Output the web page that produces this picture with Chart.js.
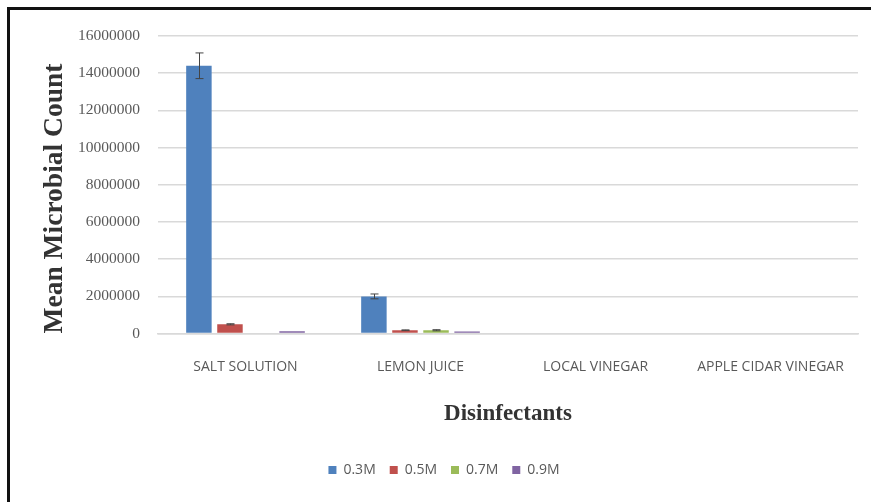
<!DOCTYPE html>
<html>
<head>
<meta charset="utf-8">
<script src="https://cdn.jsdelivr.net/npm/chart.js@4.4.1/dist/chart.umd.min.js"></script>
<style>
	html, body { margin: 0; padding: 0; background: #fff; overflow: hidden; }
	#wrap { position: relative; width: 871px; height: 502px; }
	#frame {
		position: absolute; left: 7px; top: 7px; width: 900px; height: 600px;
		border-left: 3px solid #111; border-top: 3px solid #111;
	}
	canvas { position: absolute; left: 0; top: 0; }
</style>
</head>
<body>
<div id="wrap">
	<canvas id="chartBar" width="871" height="502"></canvas>
	<div id="frame"></div>
</div>
<script>
'use strict';

var categories = ['SALT SOLUTION', 'LEMON JUICE', 'LOCAL VINEGAR', 'APPLE CIDAR VINEGAR'];
var seriesNames = ['0.3M', '0.5M', '0.7M', '0.9M'];
var seriesColors = ['#4f81bd', '#c0504d', '#9bbb59', '#8064a2'];

var mean03 = [14400000, 2000000, 0, 0];
var mean05 = [500000, 180000, 0, 0];
var mean07 = [0, 180000, 0, 0];
var mean09 = [120000, 110000, 0, 0];

var err03 = [690000, 130000, 0, 0];
var err05 = [30000, 20000, 0, 0];
var err07 = [0, 30000, 0, 0];
var err09 = [0, 0, 0, 0];

var yTicks = [0, 2000000, 4000000, 6000000, 8000000, 10000000, 12000000, 14000000, 16000000];

var means = [mean03, mean05, mean07, mean09];
var errs = [err03, err05, err07, err09];

// draws +/- error whiskers on top of each bar
var errorBars = {
	id: 'errorBars',
	afterDatasetsDraw: function(chart) {
		var ctx = chart.ctx;
		var y = chart.scales.y;
		ctx.save();
		ctx.strokeStyle = '#444';
		ctx.lineWidth = 1;
		chart.data.datasets.forEach(function(ds, i) {
			var meta = chart.getDatasetMeta(i);
			meta.data.forEach(function(bar, j) {
				var e = ds.errors[j];
				if (!e) return;
				var v = ds.data[j];
				var top = y.getPixelForValue(v + e);
				var bot = y.getPixelForValue(v - e);
				var x = Math.round(bar.x) + 0.5;
				ctx.beginPath();
				ctx.moveTo(x, top);
				ctx.lineTo(x, bot);
				ctx.moveTo(x - 4, top);
				ctx.lineTo(x + 4, top);
				ctx.moveTo(x - 4, bot);
				ctx.lineTo(x + 4, bot);
				ctx.stroke();
			});
		});
		ctx.restore();
	}
};

var ctx = document.getElementById('chartBar').getContext('2d');
new Chart(ctx, {
	type: 'bar',
	data: {
		labels: categories,
		datasets: seriesNames.map(function(name, i) {
			return {
				label: name,
				data: means[i],
				errors: errs[i],
				backgroundColor: seriesColors[i],
				categoryPercentage: 0.71,
				barPercentage: 0.82
			};
		})
	},
	options: {
		responsive: false,
		animation: false,
		layout: {
			padding: { left: 30, right: 13, top: 36, bottom: 15 }
		},
		plugins: {
			legend: {
				position: 'bottom',
				labels: {
					boxWidth: 8,
					boxHeight: 8,
					padding: 14,
					color: '#595959',
					font: { family: 'Open Sans', size: 14 }
				}
			},
			tooltip: { enabled: false }
		},
		scales: {
			y: {
				min: 0,
				max: 16000000,
				afterBuildTicks: function(axis) {
					axis.ticks = yTicks.map(function(v) { return { value: v }; });
				},
				afterFit: function(axis) {
					axis.width = 128;
				},
				grid: {
					color: '#d9d9d9',
					lineWidth: 1.5,
					drawTicks: false
				},
				border: { display: false },
				ticks: {
					padding: 18,
					color: '#595959',
					font: { family: 'Liberation Serif', size: 15.5 },
					callback: function(v) { return String(v); }
				},
				title: {
					display: true,
					text: 'Mean Microbial Count    ',
					color: '#333',
					font: { family: 'Liberation Serif', size: 27.5, weight: 'bold' },
					padding: { top: 8, bottom: 6 }
				}
			},
			x: {
				grid: { display: false, drawTicks: false },
				border: { color: '#d9d9d9', width: 1.5 },
				ticks: {
					padding: 25,
					color: '#595959',
					font: { family: 'Open Sans', size: 14 }
				},
				title: {
					display: true,
					text: 'Disinfectants',
					color: '#333',
					font: { family: 'Liberation Serif', size: 23, weight: 'bold' },
					padding: { top: 0, bottom: 21 }
				}
			}
		}
	},
	plugins: [errorBars]
});
</script>
</body>
</html>
